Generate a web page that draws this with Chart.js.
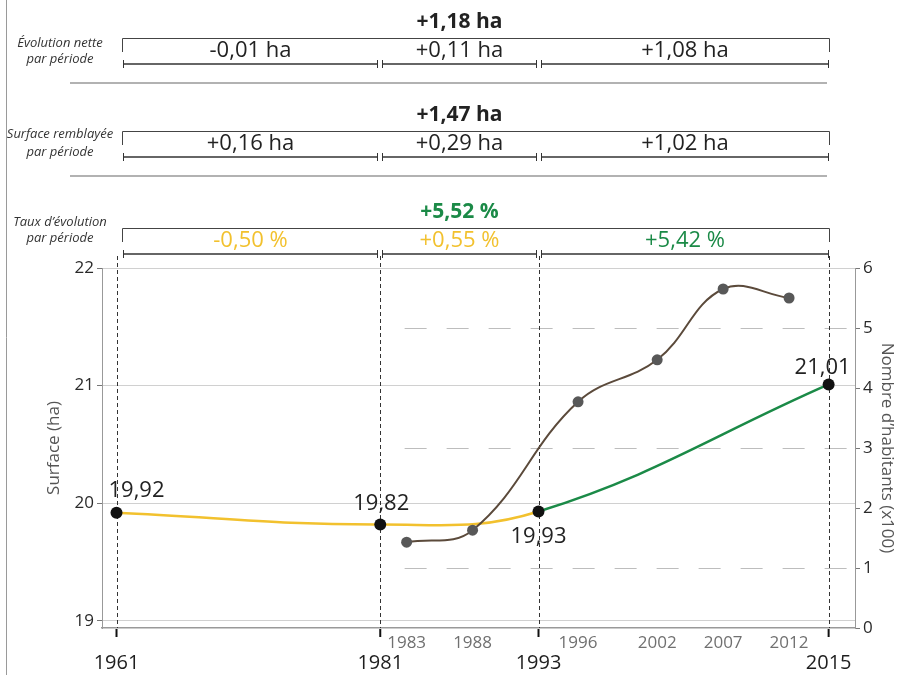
<!DOCTYPE html>
<html lang="fr">
<head>
<meta charset="utf-8">
<title>Surface et population</title>
<script src="https://cdn.jsdelivr.net/npm/chart.js@4.4.1/dist/chart.umd.min.js"></script>
<style>
  html, body { margin: 0; padding: 0; background: #fff; }
  .chart-box { position: relative; width: 897px; height: 675px; }
</style>
</head>
<body>
<div class="chart-box"><canvas id="surfaceChart"></canvas></div>
<script>
// surface (ha) at each survey date
const surfaceYears = [1961, 1981, 1993, 2015];
const surfaceValues = [19.92, 19.82, 19.93, 21.01];

// inhabitants (x100)
const popYears = [1983, 1988, 1996, 2002, 2007, 2012];
const popValues = [1.43, 1.63, 3.77, 4.47, 5.65, 5.5];

const surfaceTicks = [19, 20, 21, 22];
const popTicks = [0, 1, 2, 3, 4, 5, 6];
const popDashedTicks = [1, 3, 5];

// periods between surveys and the figures for each of them
const periodBounds = [1961, 1981, 1993, 2015];
const netChange = ["-0,01 ha", "+0,11 ha", "+1,08 ha"];
const netTotal = "+1,18 ha";
const filledArea = ["+0,16 ha", "+0,29 ha", "+1,02 ha"];
const filledTotal = "+1,47 ha";
const rateChange = ["-0,50 %", "+0,55 %", "+5,42 %"];
const rateTotal = "+5,52 %";

const YELLOW = "#f2c12e";
const GREEN = "#1b8a47";
const BROWN = "#5b4a3b";
const FONT = "'Open Sans', sans-serif";

Chart.defaults.font.family = FONT;
Chart.defaults.color = "#333";

const fmt = (v) => v.toFixed(2).replace(".", ",");

const rows = [
  {
    top: 38, total: netTotal, totalColor: "#222", values: netChange,
    colors: ["#222", "#222", "#222"],
    label: ["Évolution nette", "par période"], labelY: [43, 59], sep: true,
  },
  {
    top: 131, total: filledTotal, totalColor: "#222", values: filledArea,
    colors: ["#222", "#222", "#222"],
    label: ["Surface remblayée", "par période"], labelY: [134, 152], sep: true,
  },
  {
    top: 228, total: rateTotal, totalColor: GREEN, values: rateChange,
    colors: [YELLOW, YELLOW, GREEN],
    label: ["Taux d’évolution", "par période"], labelY: [222, 238], sep: false,
  },
];

const line = (ctx, x1, y1, x2, y2) => {
  ctx.beginPath();
  ctx.moveTo(x1, y1);
  ctx.lineTo(x2, y2);
  ctx.stroke();
};

const decorations = {
  id: "decorations",
  beforeDatasetsDraw(chart) {
    const { ctx, chartArea, scales } = chart;
    const x = scales.x;
    ctx.save();
    // dashed guides of the inhabitants axis
    ctx.strokeStyle = "#bdbdbd";
    ctx.lineWidth = 1;
    ctx.setLineDash([22, 20]);
    const gx = x.getPixelForValue(popYears[0]) - 2;
    popDashedTicks.forEach((v) => {
      const py = Math.round(scales.y2.getPixelForValue(v)) + 0.5;
      line(ctx, gx, py, chartArea.right, py);
    });
    // survey dates
    ctx.strokeStyle = "#333";
    ctx.setLineDash([4, 3]);
    periodBounds.forEach((yr) => {
      const px = Math.round(x.getPixelForValue(yr)) + 0.5;
      line(ctx, px, 256, px, chartArea.bottom);
    });
    ctx.restore();
  },
  afterDraw(chart) {
    const { ctx, chartArea, scales } = chart;
    const x = scales.x;
    const xs = periodBounds.map((v) => Math.round(x.getPixelForValue(v)));
    ctx.save();
    ctx.textAlign = "center";
    ctx.textBaseline = "middle";

    // frame on the left
    ctx.strokeStyle = "#9a9a9a";
    ctx.lineWidth = 1;
    line(ctx, 6.5, 0, 6.5, chart.height);

    // year labels
    ctx.strokeStyle = "#111";
    ctx.lineWidth = 2;
    periodBounds.forEach((yr) => {
      const px = x.getPixelForValue(yr);
      line(ctx, px, chartArea.bottom + 1, px, chartArea.bottom + 9);
      ctx.fillStyle = "#1e1e1e";
      ctx.font = "20px " + FONT;
      ctx.fillText(String(yr), px, chartArea.bottom + 35);
    });
    ctx.fillStyle = "#707070";
    ctx.font = "17px " + FONT;
    popYears.forEach((yr) => {
      ctx.fillText(String(yr), x.getPixelForValue(yr), chartArea.bottom + 15);
    });

    // surface values next to the points
    const offsets = [[20, -22], [1, -21], [0, 25], [-6, -17]];
    ctx.fillStyle = "#222";
    ctx.font = "22px " + FONT;
    chart.getDatasetMeta(0).data.forEach((pt, i) => {
      ctx.fillText(fmt(surfaceValues[i]), pt.x + offsets[i][0], pt.y + offsets[i][1]);
    });

    // period summaries above the chart
    const left = xs[0] + 5;
    const right = xs[xs.length - 1];
    rows.forEach((row) => {
      ctx.fillStyle = row.totalColor;
      ctx.font = "bold 21px " + FONT;
      ctx.fillText(row.total, (xs[1] + xs[2]) / 2, row.top - 16);

      ctx.strokeStyle = "#444";
      ctx.lineWidth = 1;
      ctx.beginPath();
      ctx.moveTo(left + 0.5, row.top + 14);
      ctx.lineTo(left + 0.5, row.top + 0.5);
      ctx.lineTo(right + 0.5, row.top + 0.5);
      ctx.lineTo(right + 0.5, row.top + 14);
      ctx.stroke();

      const iy = row.top + 26;
      const last = row.values.length - 1;
      row.values.forEach((txt, i) => {
        const a = i === 0 ? xs[0] + 6 : xs[i] + 2;
        const b = i === last ? xs[i + 1] : xs[i + 1] - 2;
        ctx.strokeStyle = "#333";
        ctx.lineWidth = 1.5;
        line(ctx, a, iy, b, iy);
        ctx.lineWidth = 1;
        line(ctx, a + 0.5, iy - 4, a + 0.5, iy + 4);
        line(ctx, b - 0.5, iy - 4, b - 0.5, iy + 4);
        ctx.fillStyle = row.colors[i];
        ctx.font = "22px " + FONT;
        ctx.fillText(txt, (a + b) / 2, row.top + 13);
      });

      if (row.sep) {
        ctx.strokeStyle = "#999";
        ctx.lineWidth = 1.5;
        line(ctx, 70, row.top + 45, right - 2, row.top + 45);
      }

      ctx.fillStyle = "#333";
      ctx.font = "italic 13px " + FONT;
      row.label.forEach((t, k) => ctx.fillText(t, 60, row.labelY[k]));
    });
    ctx.restore();
  },
};

new Chart(document.getElementById("surfaceChart"), {
  type: "line",
  data: {
    datasets: [
      {
        label: "Surface (ha)",
        data: surfaceYears.map((yr, i) => ({ x: yr, y: surfaceValues[i] })),
        yAxisID: "y",
        borderColor: YELLOW,
        borderWidth: 2.5,
        tension: 0.4,
        segment: {
          borderColor: (c) => (c.p0.parsed.x < periodBounds[2] ? YELLOW : GREEN),
        },
        pointRadius: 6,
        pointHoverRadius: 6,
        pointBackgroundColor: "#111",
        pointBorderWidth: 0,
        order: 2,
      },
      {
        label: "Nombre d’habitants",
        data: popYears.map((yr, i) => ({ x: yr, y: popValues[i] })),
        yAxisID: "y2",
        borderColor: BROWN,
        borderWidth: 2,
        tension: 0.4,
        pointRadius: 5.5,
        pointHoverRadius: 5.5,
        pointBackgroundColor: "#585858",
        pointBorderWidth: 0,
        order: 1,
      },
    ],
  },
  options: {
    responsive: true,
    maintainAspectRatio: false,
    animation: false,
    layout: { padding: { top: 268, left: 0, right: 0, bottom: 0 } },
    plugins: {
      legend: { display: false },
      tooltip: { enabled: false },
    },
    scales: {
      x: {
        type: "linear",
        min: 1959.9,
        max: 2017,
        ticks: { display: false },
        grid: { display: false },
        border: { color: "#999", width: 1.5 },
        afterFit: (s) => {
          s.height = 47;
        },
      },
      y: {
        position: "left",
        min: 18.94,
        max: 22,
        afterBuildTicks: (s) => {
          s.ticks = surfaceTicks.map((v) => ({ value: v }));
        },
        ticks: { color: "#2a2a2a", font: { size: 17 }, padding: 3 },
        grid: { color: "#d0d0d0", tickLength: 5, tickColor: "#777" },
        border: { color: "#999" },
        title: {
          display: true,
          text: "Surface (ha)",
          color: "#555",
          font: { size: 17 },
          padding: { top: 44, bottom: 0 },
        },
        afterFit: (s) => {
          s.width = 102;
        },
      },
      y2: {
        position: "right",
        min: 0,
        max: 6,
        afterBuildTicks: (s) => {
          s.ticks = popTicks.map((v) => ({ value: v }));
        },
        ticks: { color: "#2a2a2a", font: { size: 17 }, padding: 3 },
        grid: { drawOnChartArea: false, tickLength: 5, tickColor: "#777" },
        border: { color: "#999" },
        title: {
          display: true,
          text: "Nombre d’habitants (x100)",
          color: "#555",
          font: { size: 17 },
          padding: { top: 0, bottom: 0 },
        },
        afterFit: (s) => {
          s.width = 42;
        },
      },
    },
  },
  plugins: [decorations],
});
</script>
</body>
</html>
